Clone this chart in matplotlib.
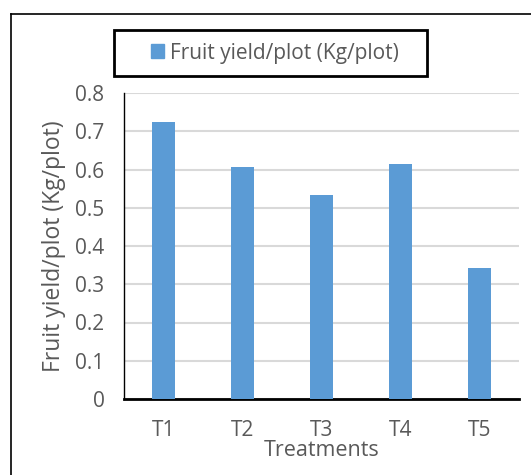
import matplotlib.pyplot as plt
from matplotlib.lines import Line2D
from matplotlib.patches import Patch, Rectangle

treatments = ["T1", "T2", "T3", "T4", "T5"]
fruit_yield = [0.725, 0.607, 0.533, 0.614, 0.342]
yticks = [0, 0.1, 0.2, 0.3, 0.4, 0.5, 0.6, 0.7, 0.8]

W, H = 531, 475
plt.rcParams["font.family"] = ["Open Sans", "DejaVu Sans"]
grey = "#595959"
bar_color = "#5B9BD5"

fig = plt.figure(figsize=(W / 100, H / 100), dpi=100)

# frame around the whole chart (left and top edges visible)
fig.add_artist(Line2D([11 / W, 11 / W], [0, 1 - 14 / H], color="black", lw=1.2,
                      transform=fig.transFigure))
fig.add_artist(Line2D([11 / W, 1], [1 - 14 / H, 1 - 14 / H], color="black", lw=1.2,
                      transform=fig.transFigure))

# plot area in pixels: x 124..519, y 93..399
x0, x1, y0, y1 = 124, 519, 93, 399
ax = fig.add_axes([x0 / W, 1 - y1 / H, (x1 - x0) / W, (y1 - y0) / H])
x = range(len(treatments))
ax.bar(x, fruit_yield, width=0.29, color=bar_color, zorder=3)
ax.set_xlim(-0.5, len(treatments) - 0.5)
ax.set_ylim(0, 0.8)
ax.set_yticks(yticks)
ax.set_yticklabels([f"{v:g}" for v in yticks])
ax.set_xticks(list(x))
ax.set_xticklabels(treatments)
ax.grid(axis="y", color="#d9d9d9", lw=1.5, zorder=0)
ax.tick_params(length=0, colors=grey, labelsize=15)
ax.tick_params(axis="y", pad=14)
ax.tick_params(axis="x", pad=15)
for s in ["top", "right"]:
    ax.spines[s].set_visible(False)
ax.spines["left"].set_color("black")
ax.spines["left"].set_linewidth(1.0)
ax.spines["bottom"].set_color("black")
ax.spines["bottom"].set_linewidth(2.0)

ax.set_xlabel("Treatments", color=grey, fontsize=15.5)
ax.set_ylabel("Fruit yield/plot (Kg/plot)", color=grey, fontsize=16.5)
ax.xaxis.set_label_coords(0.5, (y1 - 451) / (y1 - y0))
ax.xaxis.label.set_va("center")
ax.yaxis.set_label_coords((54 - x0) / (x1 - x0), 0.5)
ax.yaxis.label.set_va("center")

# legend box drawn separately so its padding can be wider than tall
fig.add_artist(Rectangle((114 / W, 1 - 76 / H), (427 - 114) / W, (76 - 30) / H,
                         transform=fig.transFigure, fill=False,
                         edgecolor="black", lw=2))
leg = fig.legend(handles=[Patch(color=bar_color, label="Fruit yield/plot (Kg/plot)")],
                 loc="center", bbox_to_anchor=(275 / W, 1 - 53 / H),
                 frameon=False, fontsize=15,
                 handlelength=0.62, handleheight=0.62, handletextpad=0.3,
                 borderpad=0, borderaxespad=0)
for t in leg.get_texts():
    t.set_color(grey)

fig.savefig("out.png", dpi=100)
